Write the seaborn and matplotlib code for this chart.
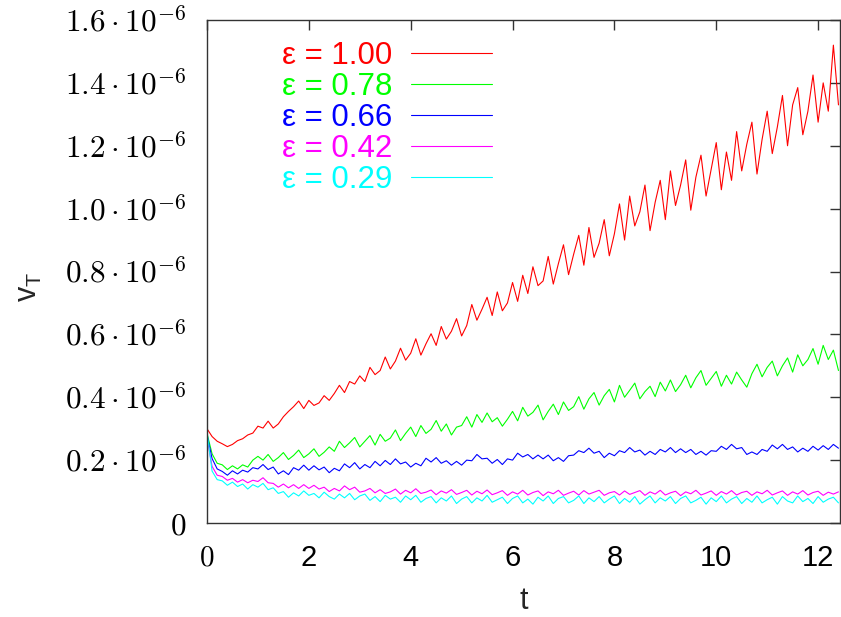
import numpy as np
import pandas as pd
import matplotlib
matplotlib.use("Agg")
import matplotlib.pyplot as plt
import seaborn as sns

# ---------------- data (values in units of 1e-8) ----------------
t = np.round(np.arange(0, 12.45, 0.1), 1)

labels = ["ε = 1.00", "ε = 0.78", "ε = 0.66", "ε = 0.42", "ε = 0.29"]
colors = ["#ff0000", "#00ff00", "#0000ff", "#ff00ff", "#00ffff"]

v_100 = [30.0, 27.5, 26.0, 25.2, 24.3, 25.0, 26.2, 26.8, 28.0, 28.6,
         30.8, 30.2, 32.4, 30.2, 31.5, 33.8, 35.5, 37.0, 38.8, 36.4,
         39.0, 37.4, 38.2, 40.5, 39.0, 41.2, 43.8, 41.5, 45.0, 44.2,
         46.8, 45.0, 49.5, 47.2, 48.5, 52.8, 49.0, 51.5, 55.6, 51.8,
         54.0, 58.6, 53.4, 57.0, 60.2, 56.5, 62.5, 58.5, 61.0, 65.0,
         59.5, 62.8, 69.5, 64.5, 68.0, 71.8, 66.0, 73.5, 67.5, 70.0,
         76.5, 70.5, 78.8, 73.0, 81.5, 75.5, 77.0, 84.8, 76.0, 82.5,
         88.5, 79.0, 85.5, 91.5, 82.0, 94.0, 84.5, 89.0, 96.5, 85.0,
         92.0, 101.5, 90.0, 104.0, 94.5, 99.0, 107.5, 93.0, 102.0, 109.0,
         96.5, 112.0, 101.0, 107.5, 115.5, 99.5, 110.0, 117.0, 104.0, 112.5,
         121.0, 106.0, 118.0, 109.0, 124.5, 112.0, 120.5, 127.5, 111.0, 122.0,
         131.0, 117.5, 126.0, 136.0, 120.0, 133.0, 138.5, 123.5, 131.0, 142.5,
         127.5, 140.0, 131.0, 152.0, 133.0]

v_078 = [28.5, 22.0, 19.0, 18.5, 17.0, 18.2, 17.2, 18.5, 17.8, 20.0,
         21.2, 20.0, 21.8, 19.6, 20.8, 22.4, 20.2, 21.5, 23.2, 20.8,
         22.0, 23.6, 21.2, 22.5, 24.2, 22.8, 26.0, 24.0, 25.5, 27.2,
         24.2, 26.0, 27.8, 24.8, 28.2, 26.0, 27.0, 29.6, 26.2, 28.5,
         30.5, 27.5, 31.0, 28.5, 29.8, 32.6, 29.2, 31.5, 28.0, 30.5,
         31.0, 33.8, 30.5, 34.5, 32.0, 35.0, 32.2, 33.5, 30.8, 33.0,
         35.5, 32.5, 36.8, 34.0, 35.2, 37.5, 32.8, 35.5, 37.8, 34.5,
         38.5, 35.8, 37.0, 40.2, 36.2, 39.5, 41.5, 37.5, 40.5, 42.5,
         38.5, 43.8, 40.0, 42.2, 44.5, 39.5, 41.8, 43.5, 40.2, 44.8,
         42.0, 45.5, 41.8, 44.0, 47.0, 43.0, 46.2, 48.5, 43.8, 46.0,
         48.2, 43.5, 47.0, 44.2, 48.0, 45.5, 43.2, 47.5, 50.5, 46.5,
         49.5, 51.5, 46.8, 50.0, 52.5, 48.0, 53.5, 50.0, 52.0, 55.5,
         50.5, 56.5, 52.0, 55.0, 48.5]

v_066 = [28.0, 20.5, 17.2, 16.4, 15.2, 16.6, 15.6, 16.8, 16.2, 17.6,
         17.2, 18.6, 17.0, 17.8, 15.6, 16.6, 15.4, 17.6, 16.8, 18.4,
         16.8, 18.2, 16.9, 17.8, 16.0, 17.4, 16.6, 18.8, 17.6, 19.2,
         17.2, 18.6, 17.6, 19.6, 18.2, 19.9, 18.6, 20.4, 18.8, 19.4,
         17.8, 19.0, 18.2, 20.6, 19.4, 20.8, 19.0, 19.8, 18.4, 19.6,
         18.4, 20.0, 19.8, 21.8, 20.4, 20.6, 19.0, 20.2, 18.6, 20.4,
         20.0, 22.2, 21.0, 21.8, 20.4, 21.6, 20.4, 21.6, 19.8, 20.8,
         19.6, 21.4, 21.6, 23.0, 22.4, 23.8, 22.2, 22.8, 20.8, 22.2,
         21.4, 23.0, 22.4, 24.0, 22.6, 23.2, 21.6, 22.8, 21.8, 23.4,
         22.6, 24.0, 22.4, 23.6, 22.4, 23.4, 21.8, 22.8, 21.6, 23.0,
         22.8, 24.4, 23.4, 25.0, 23.6, 24.0, 21.8, 22.6, 21.8, 23.4,
         22.8, 24.8, 23.6, 25.0, 23.4, 24.2, 22.6, 23.8, 22.8, 24.4,
         23.2, 24.6, 23.4, 25.0, 23.8]

v_042 = [27.0, 18.0, 15.2, 14.8, 13.6, 14.2, 13.0, 13.8, 12.8, 13.6,
         13.2, 14.4, 12.8, 12.6, 11.4, 12.4, 11.2, 12.2, 11.0, 12.2,
         11.0, 12.0, 10.8, 11.4, 10.0, 11.0, 10.2, 11.8, 10.6, 11.4,
         9.8, 10.2, 11.0, 9.6, 10.6, 9.4, 9.9, 10.8, 9.2, 10.4,
         9.6, 10.9, 9.4, 9.8, 10.5, 9.0, 10.2, 9.5, 10.6, 9.1,
         9.7, 10.4, 8.9, 10.1, 9.3, 10.5, 9.0, 9.6, 10.3, 8.8,
         9.9, 9.2, 10.4, 8.9, 9.7, 10.2, 8.7, 9.9, 9.3, 10.4,
         8.8, 9.5, 10.1, 8.9, 10.3, 9.2, 9.8, 10.4, 8.8, 9.6,
         10.0, 8.9, 10.2, 9.1, 9.7, 10.3, 8.8, 9.9, 9.2, 10.4,
         8.9, 9.6, 10.1, 8.7, 9.9, 9.3, 10.4, 8.9, 9.5, 10.2,
         8.8, 10.0, 9.2, 10.3, 8.9, 9.7, 10.1, 8.8, 9.9, 9.3,
         10.4, 8.9, 9.6, 10.2, 8.8, 9.9, 9.2, 10.3, 8.9, 9.7,
         10.1, 8.8, 9.8, 9.2, 9.9]

v_029 = [29.0, 16.5, 13.8, 13.4, 12.0, 13.0, 11.6, 12.4, 10.8, 12.2,
         11.4, 12.6, 10.6, 11.2, 9.4, 10.0, 8.2, 9.6, 8.6, 10.2,
         8.8, 9.4, 8.0, 9.8, 8.4, 7.6, 9.2, 8.0, 9.4, 7.4,
         8.6, 9.2, 7.2, 8.4, 6.8, 8.8, 7.6, 8.2, 6.6, 8.6,
         7.4, 8.8, 6.6, 7.8, 8.4, 6.4, 8.0, 7.0, 8.6, 6.2,
         7.6, 8.4, 6.4, 8.0, 7.0, 8.8, 6.6, 7.4, 8.2, 6.2,
         7.8, 8.6, 6.4, 7.6, 6.0, 8.2, 7.0, 8.6, 6.2, 7.8,
         8.4, 6.4, 7.2, 8.6, 6.2, 8.0, 6.8, 8.4, 6.4, 7.6,
         8.6, 6.2, 7.8, 6.6, 8.4, 6.0, 7.4, 8.6, 6.4, 8.0,
         7.0, 8.4, 6.2, 7.8, 8.6, 6.4, 7.2, 8.2, 6.0, 8.0,
         6.8, 8.6, 6.4, 7.6, 8.4, 6.2, 7.8, 6.6, 8.6, 6.4,
         7.4, 8.2, 6.0, 8.4, 7.0, 6.4, 8.6, 6.8, 7.8, 6.2,
         8.4, 6.6, 7.6, 8.2, 6.4]

series = [v_100, v_078, v_066, v_042, v_029]
UNIT = 1e-8

yticks = [0, 0.2e-6, 0.4e-6, 0.6e-6, 0.8e-6, 1.0e-6, 1.2e-6, 1.4e-6, 1.6e-6]
ytick_labels = ["$0$", r"$0.2\cdot10^{-6}$", r"$0.4\cdot10^{-6}$", r"$0.6\cdot10^{-6}$",
                r"$0.8\cdot10^{-6}$", r"$1.0\cdot10^{-6}$", r"$1.2\cdot10^{-6}$",
                r"$1.4\cdot10^{-6}$", r"$1.6\cdot10^{-6}$"]
xticks = [0, 2, 4, 6, 8, 10, 12]
xtick_labels = ["$0$", "2", "4", "6", "8", "10", "12"]

# ---------------- long-form table ----------------
frames = []
for lab, vals in zip(labels, series):
    frames.append(pd.DataFrame({"t": t, "v": np.asarray(vals) * UNIT, "eps": lab}))
df = pd.concat(frames, ignore_index=True)

sns.set_style("white")
plt.rcParams["font.family"] = ["Liberation Sans", "DejaVu Sans"]
plt.rcParams["mathtext.fontset"] = "cm"

fig = plt.figure(figsize=(8.41, 6.17), dpi=100)
ax = fig.add_axes([207 / 841, 1 - 523 / 617, (840 - 207) / 841, (523 - 20) / 617])

sns.lineplot(data=df, x="t", y="v", hue="eps", hue_order=labels,
             palette=dict(zip(labels, colors)), estimator=None, sort=False,
             linewidth=0.8, legend=False, ax=ax)

ax.set_xlim(0, 12.43)
ax.set_ylim(0, 1.6e-6)
ax.set_xticks(xticks)
ax.set_xticklabels(xtick_labels, fontsize=21)
ax.set_yticks(yticks)
ax.set_yticklabels(ytick_labels, fontsize=22.5)
for lbl in ax.get_yticklabels() + ax.get_xticklabels():
    lbl.set_math_fontfamily("cm")

ax.tick_params(axis="both", which="major", direction="in", length=7, width=1.0,
               top=True, right=True, colors="#333333", labelcolor="black")
ax.tick_params(axis="y", pad=15)
ax.tick_params(axis="x", pad=15)
for sp in ax.spines.values():
    sp.set_color("#333333")
    sp.set_linewidth(1.0)

ax.set_xlabel("t", fontsize=22)
ax.set_ylabel(r"$\mathregular{v_T}$", fontsize=22)
ax.xaxis.set_label_coords(0.5, -0.125)
ax.yaxis.set_label_coords(-0.258, 0.47)

leg = ax.legend(handles=ax.lines[:5], labels=labels, loc="upper left",
                bbox_to_anchor=((282 - 207) / 633, 1 - (41 - 20) / 503),
                frameon=False, markerfirst=False, handlelength=2.6,
                handletextpad=0.6, labelspacing=0.03, borderpad=0,
                borderaxespad=0, fontsize=22.5, labelcolor="linecolor")

fig.savefig("out.png", dpi=100)
